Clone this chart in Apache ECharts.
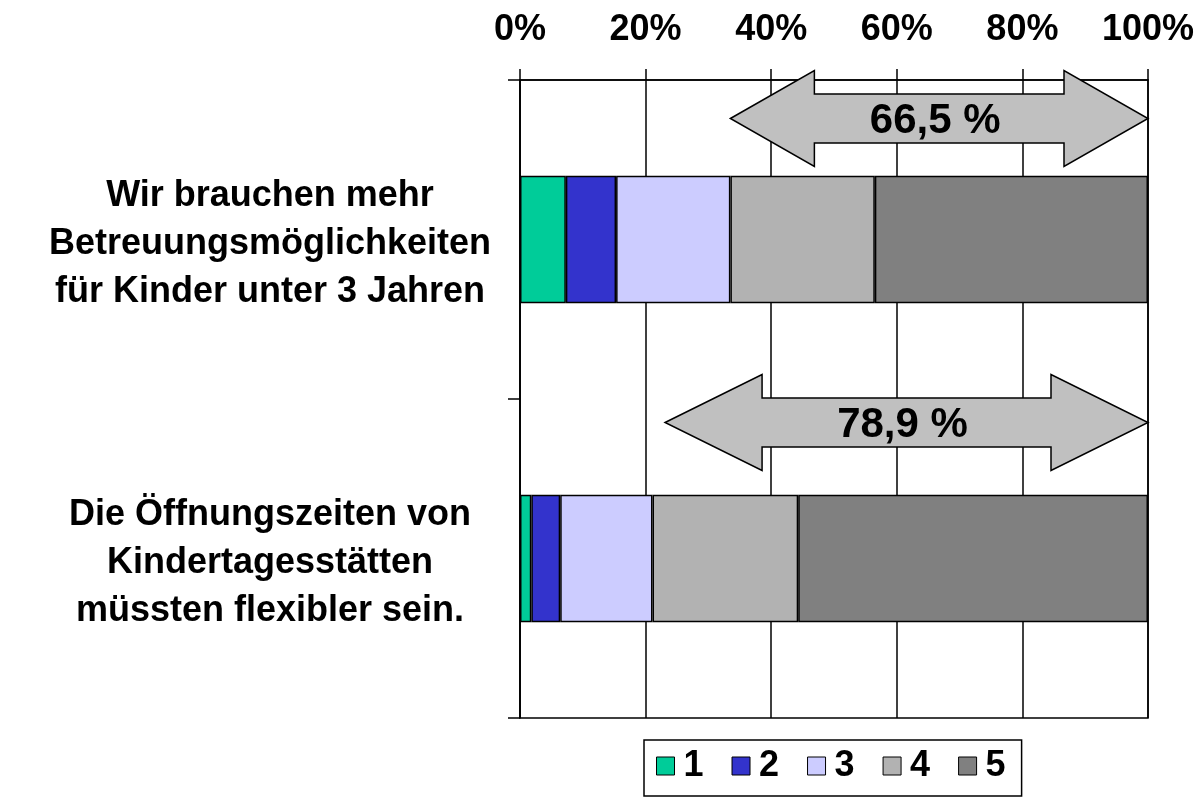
<!DOCTYPE html>
<html>
<head>
<meta charset="utf-8">
<script src="https://cdn.jsdelivr.net/npm/echarts@6/dist/echarts.min.js"></script>
<style>
  html, body { margin: 0; padding: 0; background: #fff; }
  #chart { width: 1204px; height: 797px; }
</style>
</head>
<body>
<div id="chart"></div>
<script>
// statements (top to bottom)
const categories = [
  'Wir brauchen mehr\nBetreuungsmöglichkeiten\nfür Kinder unter 3 Jahren',
  'Die Öffnungszeiten von\nKindertagesstätten\nmüssten flexibler sein.'
]

// answer levels 1..5, share in percent per statement
const seriesNames = ['1', '2', '3', '4', '5']
const level1 = [7.3, 1.8]
const level2 = [8.0, 4.6]
const level3 = [18.2, 14.7]
const level4 = [23.0, 23.2]
const level5 = [43.5, 55.7]

const xTicks = [0, 20, 40, 60, 80, 100]

const COLORS = ['#00cc99', '#3333cc', '#ccccff', '#b2b2b2', '#808080']
const FONT = 'Liberation Sans, Arial, sans-serif'

const levels = [level1, level2, level3, level4, level5]

const chart = echarts.init(document.getElementById('chart'))

chart.setOption({
  animation: false,
  grid: {
    left: 520,
    right: 56,
    top: 80,
    bottom: 79,
    show: true,
    borderColor: '#000',
    borderWidth: 1.5
  },
  legend: {
    top: 740,
    left: 644,
    data: seriesNames,
    icon: 'rect',
    itemWidth: 18,
    itemHeight: 18,
    itemGap: 28,
    padding: [8, 16, 12, 12],
    borderColor: '#000',
    borderWidth: 1.5,
    itemStyle: { borderColor: '#000', borderWidth: 1 },
    textStyle: {
      fontFamily: FONT,
      fontSize: 36,
      fontWeight: 'bold',
      color: '#000',
      padding: [0, 0, 0, 4]
    }
  },
  xAxis: {
    type: 'value',
    position: 'top',
    min: xTicks[0],
    max: xTicks[xTicks.length - 1],
    interval: xTicks[1] - xTicks[0],
    axisLine: { show: true, lineStyle: { color: '#000', width: 1.5 } },
    axisTick: { show: true, length: 11, lineStyle: { color: '#000', width: 1.5 } },
    splitLine: { show: true, lineStyle: { color: '#000', width: 1.5 } },
    axisLabel: {
      margin: 32,
      formatter: '{value}%',
      fontFamily: FONT,
      fontSize: 36,
      fontWeight: 'bold',
      color: '#000'
    }
  },
  yAxis: {
    type: 'category',
    data: categories,
    inverse: true,
    axisLine: { show: true, lineStyle: { color: '#000', width: 1.5 } },
    axisTick: { show: true, length: 12, lineStyle: { color: '#000', width: 1.5 } },
    axisLabel: {
      margin: 250,
      align: 'center',
      lineHeight: 48,
      fontFamily: FONT,
      fontSize: 36,
      fontWeight: 'bold',
      color: '#000',
      // small empty first line nudges the block a few px down
      formatter: (value) => '{gap| }\n' + value,
      rich: {
        gap: { fontSize: 4, lineHeight: 10 }
      }
    }
  },
  series: levels.map((values, i) => ({
    name: seriesNames[i],
    type: 'bar',
    stack: 'total',
    barCategoryGap: '60%',
    data: values,
    itemStyle: { color: COLORS[i], borderColor: '#000', borderWidth: 1.5 }
  }))
})

// double arrows marking the share of answers 4 + 5
const arrowShapes = [
  { from: 33.5, dy: -121, head: 84 },
  { from: 23.1, dy: -136, head: 97 }
]

const buildArrow = (cat, idx) => {
  const shape = arrowShapes[idx]
  const left = chart.convertToPixel({ xAxisIndex: 0 }, shape.from)
  const right = chart.convertToPixel({ xAxisIndex: 0 }, 100)
  const cy = chart.convertToPixel({ yAxisIndex: 0 }, cat) + shape.dy
  const hh = 48
  const sh = 24.5
  const pts = [
    [left, cy],
    [left + shape.head, cy - hh],
    [left + shape.head, cy - sh],
    [right - shape.head, cy - sh],
    [right - shape.head, cy - hh],
    [right, cy],
    [right - shape.head, cy + hh],
    [right - shape.head, cy + sh],
    [left + shape.head, cy + sh],
    [left + shape.head, cy + hh]
  ]
  const share = (level4[idx] + level5[idx]).toFixed(1).replace('.', ',') + ' %'
  return [
    {
      type: 'polygon',
      shape: { points: pts },
      style: { fill: '#c0c0c0', stroke: '#000', lineWidth: 1.5 },
      z: 100
    },
    {
      type: 'text',
      x: (left + right) / 2 - 4,
      y: cy + 3,
      style: {
        text: share,
        fontFamily: FONT,
        fontSize: 42,
        fontWeight: 'bold',
        fill: '#000',
        align: 'center',
        verticalAlign: 'middle'
      },
      z: 101
    }
  ]
}

chart.setOption({
  graphic: categories.flatMap((cat, i) => buildArrow(cat, i))
})
</script>
</body>
</html>
